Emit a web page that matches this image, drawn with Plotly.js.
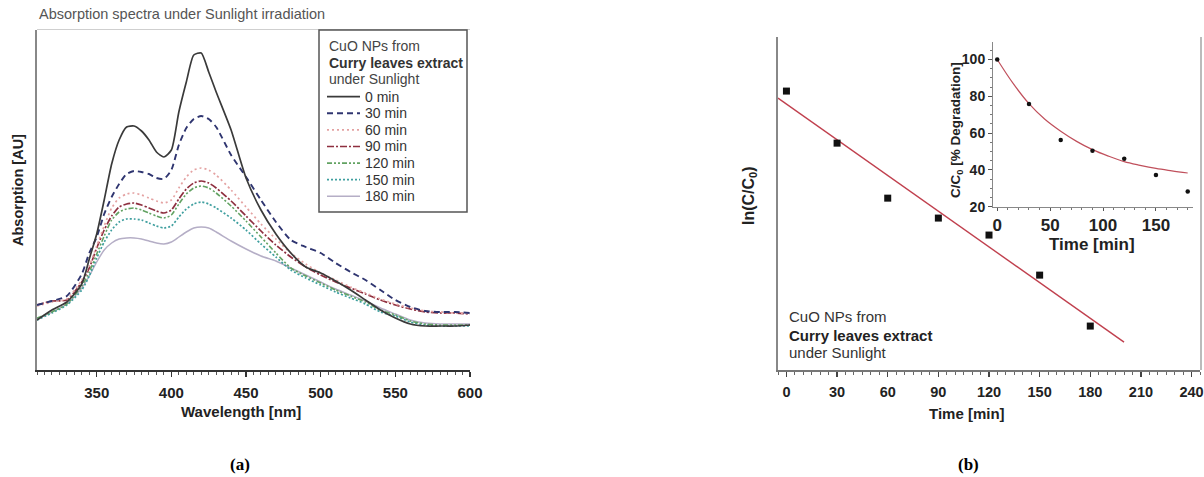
<!DOCTYPE html>
<html><head><meta charset="utf-8">
<script src="https://cdn.plot.ly/plotly-3.0.1.min.js"></script>
<style>html,body{margin:0;padding:0;background:#fff}#chart{width:1204px;height:477px}</style>
</head><body><div id="chart"></div>
<script>
// ---------- data: panel (a) absorption spectra ----------
const wavelength = [310,320,330,340,345,350,355,360,365,370,375,380,385,390,395,400,405,410,415,420,425,430,440,450,460,470,480,490,500,510,520,530,540,550,560,570,580,590,600];
const abs0   = [0.25,0.30,0.34,0.43,0.555,0.68,0.85,1.03,1.15,1.215,1.22,1.195,1.15,1.09,1.065,1.10,1.29,1.44,1.575,1.585,1.49,1.39,1.20,0.96,0.80,0.68,0.585,0.515,0.485,0.445,0.40,0.35,0.30,0.26,0.23,0.22,0.22,0.22,0.225];
const abs30  = [0.325,0.345,0.37,0.48,0.585,0.665,0.78,0.865,0.93,0.98,0.995,0.99,0.98,0.96,0.955,1.00,1.125,1.21,1.255,1.27,1.255,1.215,1.075,0.965,0.85,0.74,0.65,0.615,0.585,0.535,0.49,0.45,0.40,0.35,0.315,0.295,0.29,0.29,0.285];
const abs60  = [0.32,0.34,0.355,0.45,0.52,0.62,0.72,0.81,0.86,0.88,0.885,0.875,0.86,0.845,0.835,0.85,0.91,0.965,1.0,1.01,1.0,0.975,0.90,0.815,0.73,0.655,0.585,0.53,0.485,0.45,0.415,0.385,0.355,0.33,0.31,0.295,0.29,0.285,0.285];
const abs90  = [0.325,0.345,0.35,0.44,0.51,0.61,0.70,0.77,0.815,0.83,0.835,0.825,0.81,0.795,0.785,0.80,0.855,0.905,0.935,0.945,0.935,0.91,0.845,0.77,0.695,0.625,0.565,0.515,0.475,0.44,0.41,0.38,0.35,0.325,0.305,0.29,0.285,0.285,0.28];
const abs120 = [0.26,0.29,0.33,0.42,0.49,0.58,0.67,0.75,0.79,0.805,0.81,0.80,0.785,0.77,0.76,0.775,0.83,0.88,0.91,0.92,0.91,0.885,0.82,0.745,0.665,0.585,0.51,0.47,0.435,0.40,0.37,0.34,0.30,0.275,0.245,0.23,0.225,0.225,0.225];
const abs150 = [0.25,0.285,0.325,0.40,0.47,0.56,0.64,0.70,0.74,0.755,0.755,0.75,0.735,0.72,0.71,0.72,0.765,0.805,0.83,0.84,0.83,0.81,0.76,0.70,0.63,0.565,0.50,0.46,0.425,0.39,0.36,0.33,0.29,0.27,0.24,0.225,0.22,0.22,0.22];
const abs180 = [0.255,0.29,0.33,0.41,0.47,0.54,0.60,0.635,0.655,0.66,0.66,0.655,0.645,0.635,0.63,0.64,0.665,0.69,0.71,0.715,0.71,0.69,0.645,0.605,0.57,0.545,0.51,0.475,0.44,0.405,0.375,0.345,0.31,0.28,0.25,0.235,0.23,0.23,0.23];
const seriesNames = ['0 min','30 min','60 min','90 min','120 min','150 min','180 min'];
const xTicksA = [350,400,450,500,550,600];

// ---------- data: panel (b) kinetics ----------
const timeMin  = [0,30,60,90,120,150,180];
const lnRatio  = [0,-0.282,-0.580,-0.688,-0.780,-0.997,-1.273];
const fitTime  = [-5,200];
const fitLn    = [-0.038,-1.36];
const xTicksB  = [0,30,60,90,120,150,180,210,240];
// inset
const insetPercent = [100,75.8,56.3,50.4,46.1,37.2,28.2];
const curveTime    = [0,15,30,45,60,75,90,105,120,135,150,165,180];
const curvePercent = [100,87,76,67.5,61,55.5,51,47.5,44.5,42.5,40.8,39.5,38.3];
const insetXTicks  = [0,50,100,150];
const insetYTicks  = [20,40,60,80,100];

// ---------- styles ----------
const spectra = [abs0,abs30,abs60,abs90,abs120,abs150,abs180];
const styles = [
  {color:'#3a3a3a', dash:'solid', width:1.7},
  {color:'#2f3570', dash:'6px,4px', width:1.9},
  {color:'#e4a2a2', dash:'2px,3px', width:1.7},
  {color:'#8e2f3f', dash:'7px,2px,2px,2px', width:1.7},
  {color:'#62a262', dash:'5px,2px,2px,2px,2px,2px', width:1.6},
  {color:'#3f9f9f', dash:'2px,2px', width:1.7},
  {color:'#b5aec6', dash:'solid', width:1.5}
];
const FONT = 'Liberation Sans, Arial, sans-serif';
const W = 1204, H = 477;
const px = x => x / W, py = y => 1 - y / H;

const traces = [];
for (let i = spectra.length - 1; i >= 0; i--) {
  traces.push({x: wavelength, y: spectra[i], type:'scatter', mode:'lines', name: seriesNames[i],
    line: {color: styles[i].color, dash: styles[i].dash, width: styles[i].width, shape:'spline', smoothing:0.6},
    xaxis:'x', yaxis:'y', showlegend:false, hoverinfo:'skip'});
}
traces.push({x: fitTime, y: fitLn, type:'scatter', mode:'lines', line:{color:'#c0404e', width:1.4},
  xaxis:'x2', yaxis:'y2', showlegend:false});
traces.push({x: timeMin, y: lnRatio, type:'scatter', mode:'markers',
  marker:{symbol:'square', size:7, color:'#111'}, xaxis:'x2', yaxis:'y2', showlegend:false});
traces.push({x: curveTime, y: curvePercent, type:'scatter', mode:'lines', line:{color:'#c0505c', width:1.2, shape:'spline'},
  xaxis:'x3', yaxis:'y3', showlegend:false});
traces.push({x: timeMin, y: insetPercent, type:'scatter', mode:'markers',
  marker:{symbol:'circle', size:4.5, color:'#111'}, xaxis:'x3', yaxis:'y3', showlegend:false});

const tickBold = s => ({family: FONT, size: s, color: '#222', weight: 'bold'});

const shapes = [
  {type:'line', xref:'paper', yref:'paper', x0:px(37), x1:px(470), y0:py(29.5), y1:py(29.5), line:{color:'#cfcfcf', width:1}},
  {type:'line', xref:'paper', yref:'paper', x0:px(1201), x1:px(1201), y0:py(37), y1:py(370), line:{color:'#bbbbbb', width:2}},
  {type:'rect', xref:'paper', yref:'paper', x0:px(319), x1:px(467), y0:py(212), y1:py(30), line:{color:'#555', width:1.5}, fillcolor:'#fff'}
];
const annotations = [
  {text:'Absorption spectra under Sunlight irradiation', x:px(37), y:py(14), xanchor:'left', yanchor:'middle', font:{family:FONT, size:14.5, color:'#555'}},
  {text:'Wavelength [nm]', x:px(241), y:py(411), xanchor:'center', yanchor:'middle', font:tickBold(15)},
  {text:'Absorption [AU]', x:px(18), y:py(190), textangle:-90, xanchor:'center', yanchor:'middle', font:tickBold(14.5)},
  {text:'CuO NPs from', x:px(327), y:py(46), xanchor:'left', yanchor:'middle', font:{family:FONT, size:14, color:'#444'}},
  {text:'<b>Curry leaves extract</b>', x:px(327), y:py(62.7), xanchor:'left', yanchor:'middle', font:{family:FONT, size:14, color:'#333'}},
  {text:'under Sunlight', x:px(327), y:py(79.3), xanchor:'left', yanchor:'middle', font:{family:FONT, size:14, color:'#444'}},
  {text:'Time [min]', x:px(967), y:py(413), xanchor:'center', yanchor:'middle', font:tickBold(15)},
  {text:'ln(C/C<sub>0</sub>)', x:px(749), y:py(196), textangle:-90, xanchor:'center', yanchor:'middle', font:tickBold(16)},
  {text:'CuO NPs from', x:px(787), y:py(316.7), xanchor:'left', yanchor:'middle', font:{family:FONT, size:15, color:'#333'}},
  {text:'<b>Curry leaves extract</b>', x:px(787), y:py(335), xanchor:'left', yanchor:'middle', font:{family:FONT, size:15, color:'#222'}},
  {text:'under Sunlight', x:px(787), y:py(352.7), xanchor:'left', yanchor:'middle', font:{family:FONT, size:15, color:'#333'}},
  {text:'Time [min]', x:px(1092), y:py(244), xanchor:'center', yanchor:'middle', font:tickBold(17)},
  {text:'C/C<sub>0</sub> [% Degradation]', x:px(956), y:py(130), textangle:-90, xanchor:'center', yanchor:'middle', font:tickBold(13.5)},
  {text:'(a)', x:px(240), y:py(464), xanchor:'center', yanchor:'middle', font:{family:'Liberation Serif, Times New Roman, serif', size:17, color:'#000', weight:'bold'}},
  {text:'(b)', x:px(968), y:py(464), xanchor:'center', yanchor:'middle', font:{family:'Liberation Serif, Times New Roman, serif', size:17, color:'#000', weight:'bold'}}
];
for (let i = 0; i < seriesNames.length; i++) {
  const yy = 96.7 + 16.6 * i;
  shapes.push({type:'line', xref:'paper', yref:'paper', x0:px(327), x1:px(360), y0:py(yy), y1:py(yy),
    line:{color: styles[i].color, dash: styles[i].dash, width: styles[i].width}});
  annotations.push({text: seriesNames[i], x:px(363), y:py(yy), xanchor:'left', yanchor:'middle',
    font:{family:FONT, size:14, color:'#333'}});
}
annotations.forEach(a => { a.xref = 'paper'; a.yref = 'paper'; a.showarrow = false; });

const layout = {
  width: W, height: H, margin:{l:0, r:0, t:0, b:0},
  paper_bgcolor:'#fff', plot_bgcolor:'rgba(0,0,0,0)', showlegend:false,
  font:{family: FONT},
  xaxis:{domain:[px(37), px(470)], range:[310,600], anchor:'y', tickmode:'array', tickvals:xTicksA,
    ticks:'outside', ticklen:5, tickwidth:1.2, tickcolor:'#333', tickfont:tickBold(15), ticklabelstandoff:3,
    ticklabeloverflow:'allow',
    minor:{dtick:5, tick0:310, ticks:'outside', ticklen:3, tickcolor:'#555', tickwidth:1},
    showline:true, linecolor:'#333', linewidth:1.5, showgrid:false, zeroline:false},
  yaxis:{domain:[py(370), py(30)], range:[0,1.7], anchor:'x', showticklabels:false, ticks:'',
    showline:true, linecolor:'#888', linewidth:2, showgrid:false, zeroline:false},
  xaxis2:{domain:[px(778), px(1200)], range:[-5,245], anchor:'y2', tickmode:'array', tickvals:xTicksB,
    ticks:'outside', ticklen:5, tickwidth:1.2, tickcolor:'#444', tickfont:tickBold(14.5), ticklabelstandoff:3,
    ticklabeloverflow:'allow',
    minor:{dtick:5, tick0:0, ticks:'outside', ticklen:3, tickcolor:'#666', tickwidth:1},
    showline:true, linecolor:'#777', linewidth:2, showgrid:false, zeroline:false},
  yaxis2:{domain:[py(370), py(37)], range:[-1.511,0.293], anchor:'x2', showticklabels:false, ticks:'',
    showline:true, linecolor:'#888', linewidth:2.5, showgrid:false, zeroline:false},
  xaxis3:{domain:[px(993), px(1193)], range:[-4,185], anchor:'y3', tickmode:'array', tickvals:insetXTicks,
    ticks:'outside', ticklen:3, tickcolor:'#555', tickfont:tickBold(17), ticklabelstandoff:0,
    minor:{dtick:10, tick0:0, ticks:'outside', ticklen:2, tickcolor:'#777'},
    showline:true, linecolor:'#888', linewidth:1, showgrid:false, zeroline:false},
  yaxis3:{domain:[py(206.7), py(42)], range:[20,109.5], anchor:'x3', tickmode:'array', tickvals:insetYTicks,
    ticks:'outside', ticklen:4, tickcolor:'#555', tickfont:tickBold(14),
    minor:{dtick:5, tick0:0, ticks:'outside', ticklen:2, tickcolor:'#777'},
    showline:true, linecolor:'#888', linewidth:1, showgrid:false, zeroline:false},
  shapes: shapes, annotations: annotations
};
Plotly.newPlot('chart', traces, layout, {staticPlot:true, displayModeBar:false});
</script></body></html>
